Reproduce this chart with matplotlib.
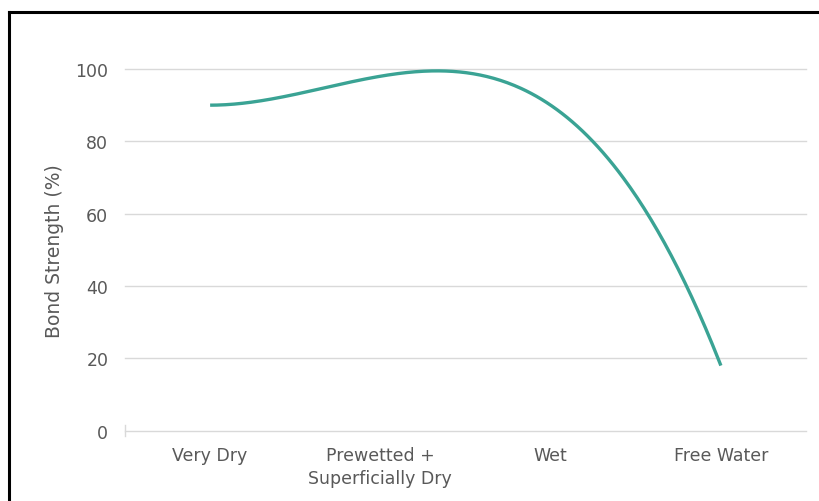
import numpy as np
import matplotlib
matplotlib.use("Agg")
import matplotlib.pyplot as plt
from matplotlib.lines import Line2D

categories = ["Very Dry", "Prewetted +\nSuperficially Dry", "Wet", "Free Water"]
bond_strength = [90, 98, 90, 18]
y_ticks = [0, 20, 40, 60, 80, 100]

LINE_COLOR = "#3AA394"
TEXT_COLOR = "#595959"
GRID_COLOR = "#D9D9D9"

plt.rcParams["font.family"] = ["DejaVu Sans"]

fig = plt.figure(figsize=(8.2, 5.02), dpi=100)
ax = fig.add_axes([125 / 820, 70.3 / 502, 681 / 820, 361.7 / 502])

# smooth trend line through the four measured points
x = np.arange(len(categories))
coef = np.polyfit(x, bond_strength, len(categories) - 1)
sx = np.linspace(x[0], x[-1], 300)
sy = np.polyval(coef, sx)
ax.plot(sx, sy, color=LINE_COLOR, lw=2.4, solid_capstyle="butt",
        clip_on=False, zorder=3)

ax.set_xlim(-0.5, len(categories) - 0.5)
ax.set_ylim(0, 100)
ax.set_yticks(y_ticks)
ax.set_xticks(x)
ax.set_xticklabels(categories)

for t in y_ticks:
    ax.axhline(t, color=GRID_COLOR, lw=1.0, zorder=1, clip_on=False)

for s in ax.spines.values():
    s.set_visible(False)

ax.tick_params(axis="both", length=0, colors=TEXT_COLOR, labelsize=12.5)
ax.tick_params(axis="y", pad=12)
ax.tick_params(axis="x", pad=11)
for lbl in ax.get_xticklabels():
    lbl.set_linespacing(1.35)

# short mark at the left end of the category axis
ax.plot([-0.5, -0.5], [-1.6, 1.6], color=GRID_COLOR, lw=1.0, clip_on=False)

ax.set_ylabel("Bond Strength (%)", color=TEXT_COLOR, fontsize=13.5, labelpad=8)

# frame edges around the figure
fig.add_artist(Line2D([8.5 / 820, 8.5 / 820], [0, 1 - 12.5 / 502],
                      transform=fig.transFigure, color="black", lw=2.2))
fig.add_artist(Line2D([8.5 / 820, 1], [1 - 12.5 / 502, 1 - 12.5 / 502],
                      transform=fig.transFigure, color="black", lw=2.2))

fig.savefig("out.png", dpi=100, facecolor="white")
